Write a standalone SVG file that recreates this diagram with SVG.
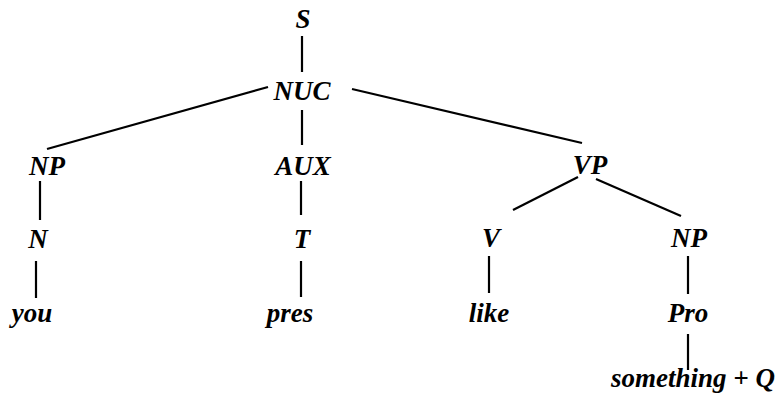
<svg xmlns="http://www.w3.org/2000/svg" width="780" height="398" viewBox="0 0 780 398">
<style>
text{font-family:"Liberation Serif","Times New Roman",serif;font-style:italic;font-weight:bold;font-size:27px;fill:#000;text-anchor:middle}
line{stroke:#000;stroke-width:2.2;stroke-linecap:butt}
</style>
<rect width="780" height="398" fill="#fff"/>
<g id="connectors">
<line x1="302" y1="36" x2="302" y2="72"/>
<line x1="268" y1="87" x2="47" y2="149"/>
<line x1="302" y1="110" x2="302" y2="145"/>
<line x1="352" y1="89" x2="582" y2="143"/>
<line x1="40" y1="181" x2="40" y2="220"/>
<line x1="301" y1="181" x2="301" y2="215"/>
<line x1="578" y1="177" x2="513" y2="210"/>
<line x1="596" y1="179" x2="681" y2="216"/>
<line x1="36" y1="261" x2="36" y2="298"/>
<line x1="301" y1="261" x2="301" y2="297"/>
<line x1="489" y1="256" x2="489" y2="293"/>
<line x1="688" y1="256" x2="688" y2="294"/>
<line x1="688" y1="334" x2="688" y2="370"/>
</g>
<g id="S"><text x="303" y="28">S</text></g>
<g id="NUC"><text x="302" y="100">NUC</text></g>
<g id="NP1"><text x="47" y="175">NP</text></g>
<g id="AUX"><text x="303" y="175">AUX</text></g>
<g id="VP"><text x="590" y="174">VP</text></g>
<g id="N"><text x="38" y="248">N</text></g>
<g id="T"><text x="302" y="248">T</text></g>
<g id="V"><text x="491" y="247">V</text></g>
<g id="NP2"><text x="689" y="247">NP</text></g>
<g id="you"><text x="32" y="322">you</text></g>
<g id="pres"><text x="290" y="322">pres</text></g>
<g id="like"><text x="489" y="322">like</text></g>
<g id="Pro"><text x="688" y="322">Pro</text></g>
<g id="something"><text x="693" y="387">something + Q</text></g>
</svg>
